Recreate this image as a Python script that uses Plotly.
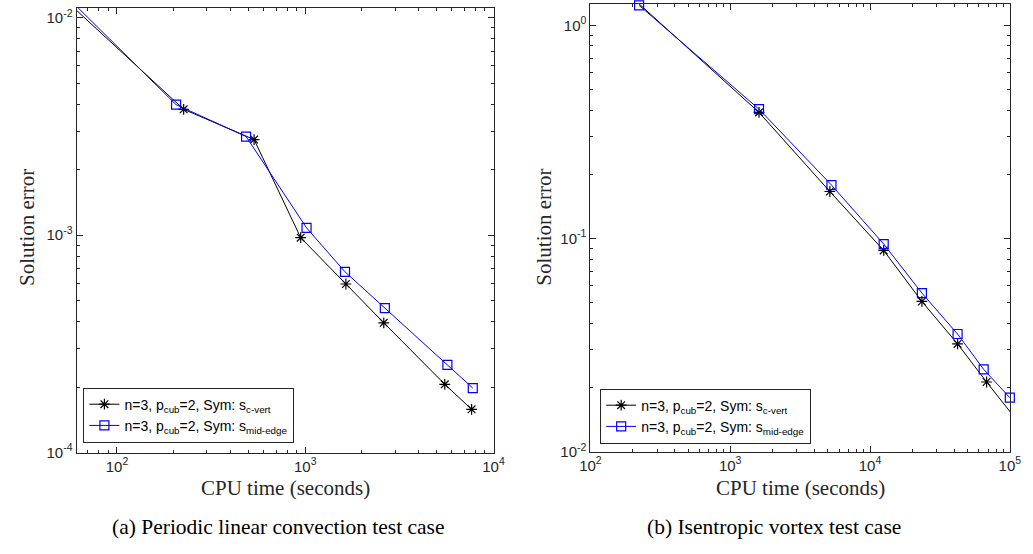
import math
import plotly.graph_objects as go

# ---------------- data ----------------
# (a) Periodic linear convection test case
lin_time_cvert = [61, 226, 535, 946, 1644, 2613, 5510, 7650]
lin_err_cvert = [0.0108, 0.00379, 0.00275, 0.000973, 0.000596, 0.000395, 0.000206, 0.000158]
lin_time_mid = [61.5, 206, 485, 1016, 1626, 2647, 5690, 7760]
lin_err_mid = [0.0112, 0.00398, 0.00284, 0.00108, 0.000678, 0.000462, 0.000253, 0.000198]

# (b) Isentropic vortex test case
vort_time_cvert = [223, 1607, 5160, 12530, 23500, 42300, 68200, 101000]
vort_err_cvert = [1.26, 0.390, 0.166, 0.0878, 0.0506, 0.0320, 0.0212, 0.0153]
vort_time_mid = [223, 1607, 5300, 12530, 23500, 42300, 65000, 100000]
vort_err_mid = [1.24, 0.404, 0.178, 0.0941, 0.0554, 0.0356, 0.0243, 0.0179]

name_cvert = "n=3, p<sub>cub</sub>=2, Sym: s<sub>c-vert</sub>"
name_mid = "n=3, p<sub>cub</sub>=2, Sym: s<sub>mid-edge</sub>"

left_x_major = [100, 1000, 10000]
left_x_labels = ["10<sup>2</sup>", "10<sup>3</sup>", "10<sup>4</sup>"]
left_y_major = [1e-4, 1e-3, 1e-2]
left_y_labels = ["10<sup>-4</sup>", "10<sup>-3</sup>", "10<sup>-2</sup>"]
right_x_major = [100, 1000, 10000, 100000]
right_x_labels = ["10<sup>2</sup>", "10<sup>3</sup>", "10<sup>4</sup>", "10<sup>5</sup>"]
right_y_major = [0.01, 0.1, 1]
right_y_labels = ["10<sup>-2</sup>", "10<sup>-1</sup>", "10<sup>0</sup>"]

W, H = 1033, 554
AX = "#262626"


def minor_vals(lo_dec, hi_dec):
    out = []
    for d in range(lo_dec, hi_dec):
        for k in range(2, 10):
            out.append(k * 10 ** d)
    return out


fig = go.Figure()

BLACK = "#000000"
BLUE = "#0000FF"


def add_pair(xc, yc, xm, ym, xa, ya, leg):
    fig.add_trace(go.Scatter(x=xc, y=yc, name=name_cvert,
                             mode="lines+markers", line=dict(color=BLACK, width=1),
                             marker=dict(symbol="asterisk-open", size=9, line=dict(color=BLACK, width=1.2)),
                             xaxis=xa, yaxis=ya, legend=leg, cliponaxis=False))
    fig.add_trace(go.Scatter(x=xm, y=ym, name=name_mid,
                             mode="lines+markers", line=dict(color=BLUE, width=1),
                             marker=dict(symbol="square-open", size=9, color=BLUE, line=dict(color=BLUE, width=1.2)),
                             xaxis=xa, yaxis=ya, legend=leg, cliponaxis=False))


add_pair(lin_time_cvert, lin_err_cvert, lin_time_mid, lin_err_mid, "x", "y", "legend")
add_pair(vort_time_cvert, vort_err_cvert, vort_time_mid, vort_err_mid, "x2", "y2", "legend2")

tickfont = dict(family="Liberation Sans, Arial, sans-serif", size=15, color=AX)


def axis_common(major, labels, minor, rng, domain, anchor):
    return dict(type="log", range=rng, domain=domain, anchor=anchor,
                tickmode="array", tickvals=major, ticktext=labels,
                ticks="inside", ticklen=6, tickwidth=1, tickcolor=AX,
                showline=True, linecolor=AX, linewidth=1, mirror="ticks",
                showgrid=False, zeroline=False, tickfont=tickfont,
                minor=dict(tickmode="array", tickvals=minor, ticks="inside",
                           ticklen=3, tickcolor=AX, showgrid=False))


def px2fx(px):
    return px / W


def py2fy(py):
    return 1 - py / H


legfont = dict(family="Liberation Sans, Arial, sans-serif", size=14, color="#000")
fig.update_layout(
    width=W, height=H,
    margin=dict(l=0, r=0, t=0, b=0),
    paper_bgcolor="white", plot_bgcolor="white",
    xaxis=axis_common(left_x_major, left_x_labels, minor_vals(1, 4),
                      [math.log10(61), 4], [px2fx(67), px2fx(493)], "y"),
    yaxis=axis_common(left_y_major, left_y_labels, minor_vals(-4, -2),
                      [-4, -1.955], [py2fy(459), py2fy(7)], "x"),
    xaxis2=axis_common(right_x_major, right_x_labels, minor_vals(2, 5),
                       [2, 5.003], [px2fx(592), px2fx(1021)], "y2"),
    yaxis2=axis_common(right_y_major, right_y_labels, minor_vals(-2, 0),
                       [-2, 0.1], [py2fy(458), py2fy(3)], "x2"),
    legend=dict(x=px2fx(74), y=py2fy(393), xanchor="left", yanchor="top",
                bordercolor=AX, borderwidth=1, bgcolor="white", font=legfont,
                tracegroupgap=0, itemwidth=30),
    legend2=dict(x=px2fx(602), y=py2fy(394), xanchor="left", yanchor="top",
                 bordercolor=AX, borderwidth=1, bgcolor="white", font=legfont,
                 tracegroupgap=0, itemwidth=30),
    showlegend=True,
)

serif = "Liberation Serif, Times New Roman, serif"
title_font = dict(family=serif, size=21, color=AX)
ann = [
    dict(text="Solution error", x=px2fx(17), y=py2fy(230), textangle=-90),
    dict(text="Solution error", x=px2fx(545), y=py2fy(230), textangle=-90),
    dict(text="CPU time (seconds)", x=px2fx(280), y=py2fy(495)),
    dict(text="CPU time (seconds)", x=px2fx(807), y=py2fy(495)),
]
for a in ann:
    fig.add_annotation(xref="paper", yref="paper", showarrow=False,
                       xanchor="center", yanchor="middle", font=title_font, **a)

cap_font = dict(family=serif, size=21.5, color="#000")
fig.add_annotation(text="(a) Periodic linear convection test case", x=px2fx(273), y=py2fy(535),
                   xref="paper", yref="paper", showarrow=False, xanchor="center", yanchor="middle", font=cap_font)
fig.add_annotation(text="(b) Isentropic vortex test case", x=px2fx(780), y=py2fy(535),
                   xref="paper", yref="paper", showarrow=False, xanchor="center", yanchor="middle", font=cap_font)

fig.write_html("out.html")
